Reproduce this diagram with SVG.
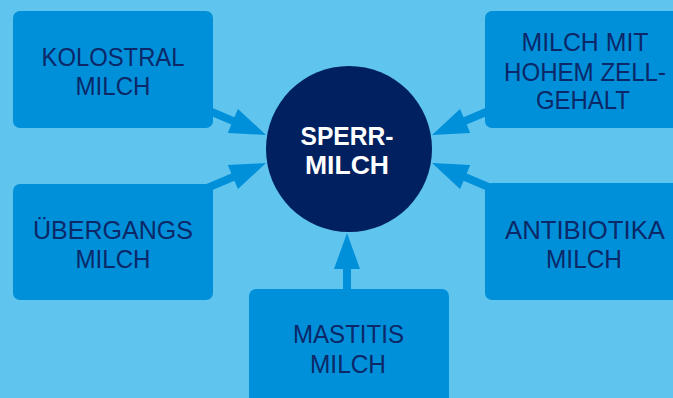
<svg xmlns="http://www.w3.org/2000/svg" xmlns:xlink="http://www.w3.org/1999/xlink" width="673" height="398" viewBox="0 0 673 398">
<style>
.box{fill:#0090da}
.arr{fill:#0090da}
.t{font-family:"Liberation Sans",Arial,sans-serif;font-size:26px;fill:#0b2868;text-anchor:middle}
.c{font-family:"Liberation Sans",Arial,sans-serif;font-size:26px;font-weight:bold;fill:#ffffff;text-anchor:middle}
</style>
<defs>
<path id="arrow" d="M-36,-13 L0,0 L-36,13 L-36,4 L-90,4 L-90,-4 L-36,-4 Z"/>
</defs>
<rect width="673" height="398" fill="#5fc4ee"/>
<g id="connectors" class="arr">
<use xlink:href="#arrow" href="#arrow" transform="translate(266,135) rotate(23)"/>
<use xlink:href="#arrow" href="#arrow" transform="translate(266,163) rotate(-23)"/>
<use xlink:href="#arrow" href="#arrow" transform="translate(432,135) rotate(157)"/>
<use xlink:href="#arrow" href="#arrow" transform="translate(432,163) rotate(203)"/>
<use xlink:href="#arrow" href="#arrow" transform="translate(347,233) rotate(-90)"/>
</g>
<g id="kolostral">
<rect class="box" x="13" y="11" width="200" height="117" rx="7"/>
<text class="t" x="113" y="66" textLength="143" lengthAdjust="spacingAndGlyphs">KOLOSTRAL</text>
<text class="t" x="113" y="95" textLength="75" lengthAdjust="spacingAndGlyphs">MILCH</text>
</g>
<g id="uebergangs">
<rect class="box" x="13" y="184" width="200" height="116" rx="7"/>
<text class="t" x="113" y="239" textLength="160" lengthAdjust="spacingAndGlyphs">ÜBERGANGS</text>
<text class="t" x="113" y="268" textLength="75" lengthAdjust="spacingAndGlyphs">MILCH</text>
</g>
<g id="zellgehalt">
<rect class="box" x="485" y="11" width="200" height="117" rx="7"/>
<text class="t" x="585" y="51" textLength="127" lengthAdjust="spacingAndGlyphs">MILCH MIT</text>
<text class="t" x="585" y="81" textLength="162" lengthAdjust="spacingAndGlyphs">HOHEM ZELL-</text>
<text class="t" x="583" y="109" textLength="94" lengthAdjust="spacingAndGlyphs">GEHALT</text>
</g>
<g id="antibiotika">
<rect class="box" x="485" y="183" width="200" height="117" rx="7"/>
<text class="t" x="585" y="239" textLength="160" lengthAdjust="spacingAndGlyphs">ANTIBIOTIKA</text>
<text class="t" x="584" y="268" textLength="76" lengthAdjust="spacingAndGlyphs">MILCH</text>
</g>
<g id="mastitis">
<rect class="box" x="249" y="289" width="200" height="130" rx="7"/>
<text class="t" x="348.5" y="343" textLength="111" lengthAdjust="spacingAndGlyphs">MASTITIS</text>
<text class="t" x="348" y="373" textLength="76" lengthAdjust="spacingAndGlyphs">MILCH</text>
</g>
<g id="sperrmilch">
<circle cx="349" cy="149" r="83" fill="#002060"/>
<text class="c" x="347" y="145" textLength="93" lengthAdjust="spacingAndGlyphs">SPERR-</text>
<text class="c" x="347" y="174" textLength="84" lengthAdjust="spacingAndGlyphs">MILCH</text>
</g>
</svg>
